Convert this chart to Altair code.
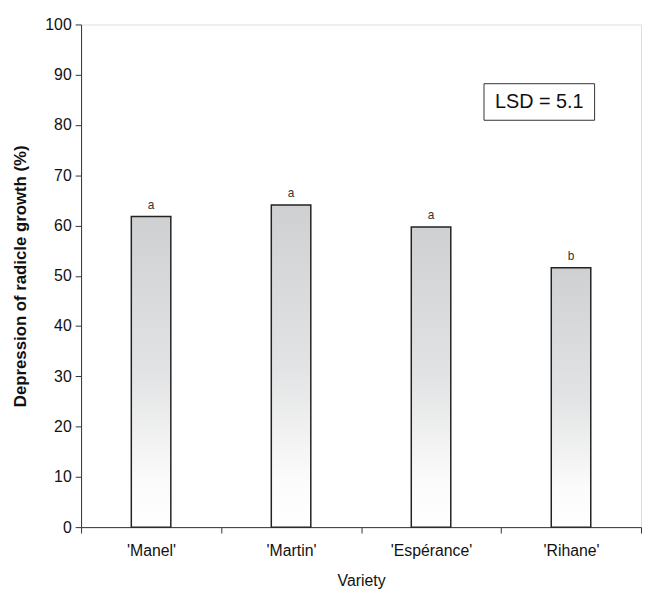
import altair as alt
import pandas as pd

varieties = ["'Manel'", "'Martin'", "'Espérance'", "'Rihane'"]
depression = [61.8, 64.1, 59.7, 51.6]
letters = ["a", "a", "a", "b"]
lsd_label = ["LSD = 5.1"]

df = pd.DataFrame({"variety": varieties, "value": depression, "letter": letters})

FONT = "Liberation Sans"

x_enc = alt.X(
    "variety:N",
    sort=varieties,
    title="Variety",
    scale=alt.Scale(paddingInner=0, paddingOuter=0),
    axis=alt.Axis(
        tickBand="extent",
        labelAngle=0,
        labelFontSize=16,
        labelPadding=10,
        labelColor="#111",
        titleFontSize=16,
        titleFontWeight="normal",
        titleColor="#111",
        titlePadding=14,
        tickSize=6,
        tickColor="#333",
        domainColor="#333",
        grid=False,
    ),
)
y_enc = alt.Y(
    "value:Q",
    title="Depression of radicle growth (%)",
    scale=alt.Scale(domain=[0, 100], nice=False),
    axis=alt.Axis(
        values=list(range(0, 101, 10)),
        labelFontSize=16,
        labelPadding=4,
        labelColor="#111",
        titleFontSize=17,
        titleFontWeight="bold",
        titleColor="#111",
        titlePadding=16,
        tickSize=6,
        tickColor="#333",
        domainColor="#333",
        grid=False,
    ),
)

bars = alt.Chart(df).mark_bar(
    width=40,
    stroke="#222",
    strokeWidth=1.5,
    fill=alt.Gradient(
        gradient="linear",
        stops=[
            alt.GradientStop(color="#cfd0d2", offset=0),
            alt.GradientStop(color="#e2e3e4", offset=0.5),
            alt.GradientStop(color="#fbfbfb", offset=0.85),
            alt.GradientStop(color="#ffffff", offset=1),
        ],
        x1=0, x2=0, y1=0, y2=1,
    ),
).encode(x=x_enc, y=y_enc)

labels = alt.Chart(df).mark_text(
    baseline="alphabetic", dy=-8, fontSize=12, font=FONT, color="#333"
).encode(x=alt.X("variety:N", sort=varieties), y="value:Q", text="letter:N")

box_df = pd.DataFrame({"label": lsd_label})
box = alt.Chart(box_df).mark_rect(
    fill="white", stroke="#333", strokeWidth=1
).encode(x=alt.value(408), x2=alt.value(520), y=alt.value(60), y2=alt.value(97))
box_text = alt.Chart(box_df).mark_text(
    fontSize=20, font=FONT, color="#111", align="center", baseline="middle"
).encode(x=alt.value(464), y=alt.value(79), text="label:N")

chart = alt.layer(bars, labels, box, box_text).properties(
    width=567,
    height=509,
    padding={"left": 74, "top": 13, "right": 1, "bottom": 60},
    autosize=alt.AutoSizeParams(type="none"),
).configure_view(stroke=None).configure(font=FONT).configure_axis(
    labelFont=FONT, titleFont=FONT
)

chart.save("out.html", embed_options={"renderer": "svg", "actions": False})
